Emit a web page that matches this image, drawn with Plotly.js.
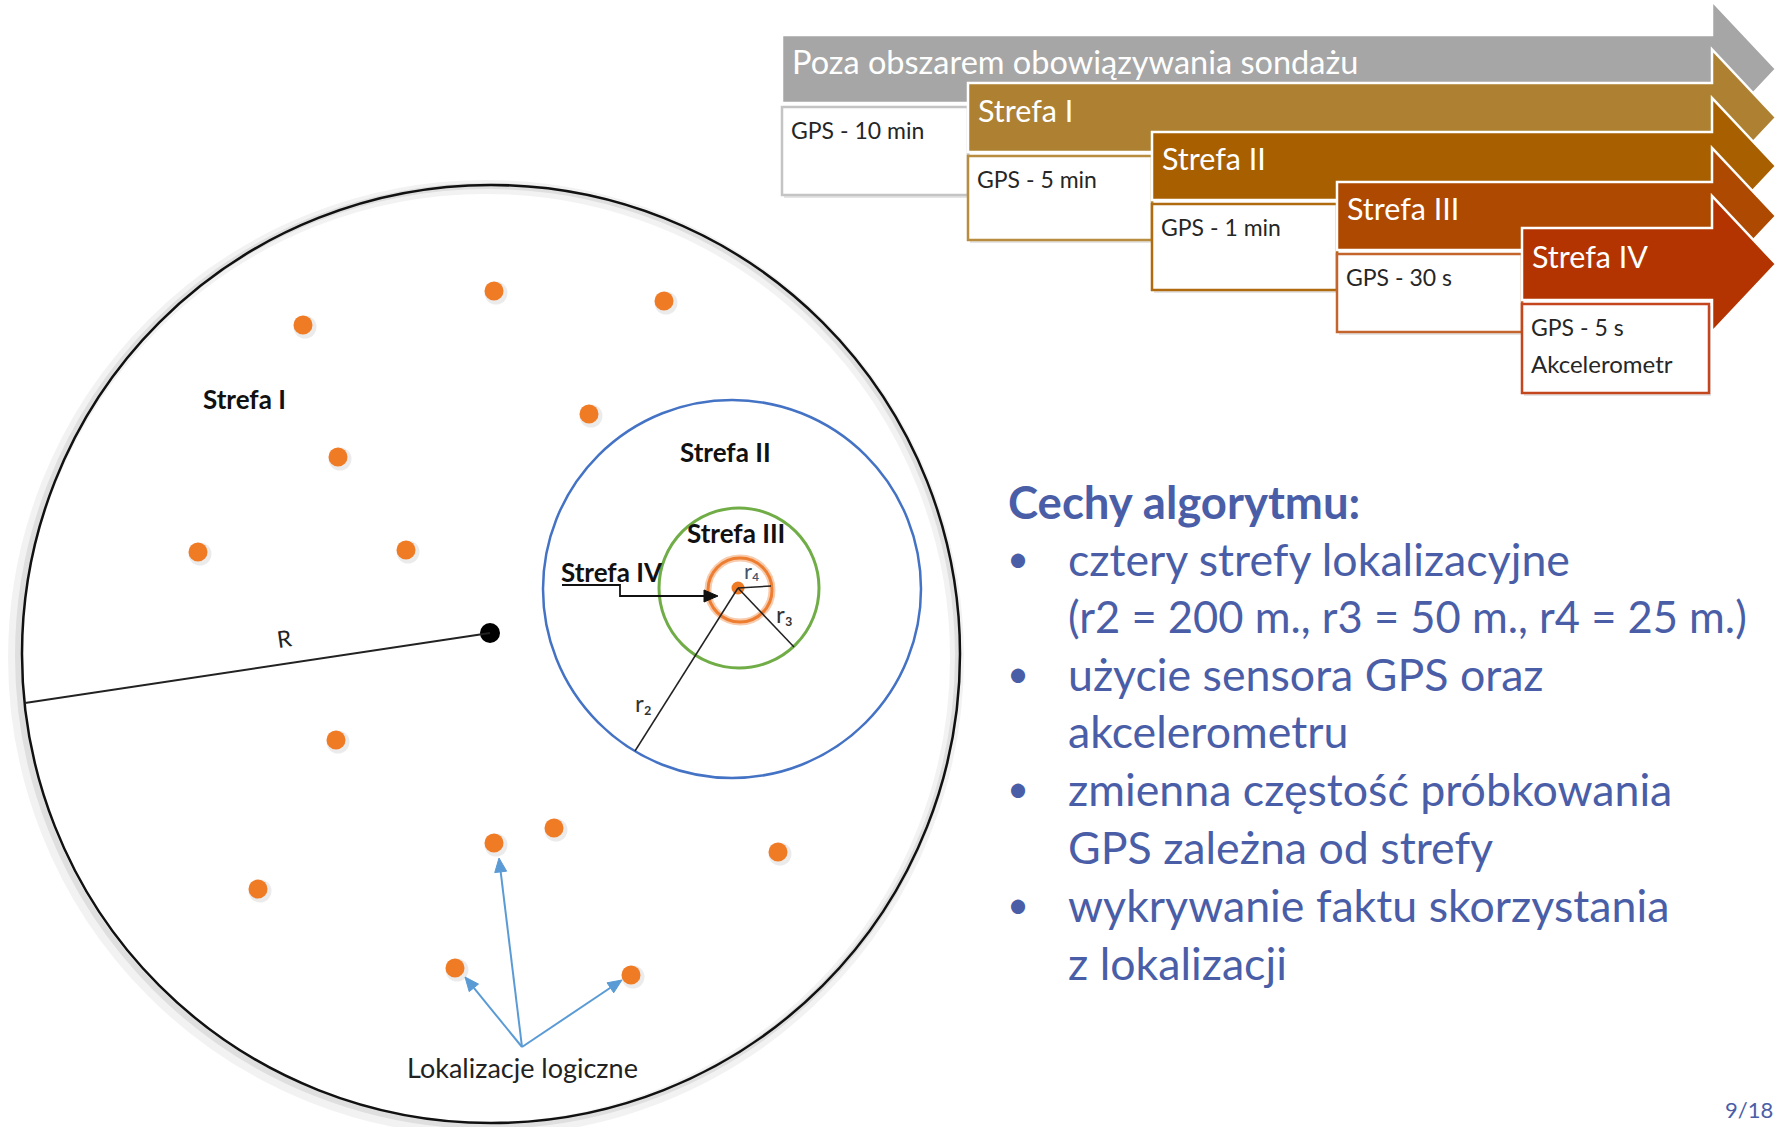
<!DOCTYPE html>
<html>
<head>
<meta charset="utf-8">
<script src="https://cdn.plot.ly/plotly-3.0.1.min.js"></script>
<style>html,body{margin:0;padding:0;background:#fff;}#chart{width:1776px;height:1127px;}</style>
</head>
<body>
<div id="chart"></div>
<script>
// ---------- data ----------
const dotX = [303, 494, 664, 589, 338, 198, 406, 336, 494, 554, 778, 258, 455, 631];
const dotY = [325, 291, 301, 414, 457, 552, 550, 740, 843, 828, 852, 889, 968, 975];

const bannerTitles = ['Poza obszarem obowiązywania sondażu', 'Strefa I', 'Strefa II', 'Strefa III', 'Strefa IV'];
const bannerGps = ['GPS - 10 min', 'GPS - 5 min', 'GPS - 1 min', 'GPS - 30 s', 'GPS - 5 s'];
const bannerExtra = ['', '', '', '', 'Akcelerometr'];

const zoneLabels = ['Strefa I', 'Strefa II', 'Strefa III', 'Strefa IV'];
const ringLabels = ['r₂', 'r₃', 'r₄'];

const headline = 'Cechy algorytmu:';
const bulletLines = [
  ['cztery strefy lokalizacyjne', '(r2 = 200 m., r3 = 50 m., r4 = 25 m.)'],
  ['użycie sensora GPS oraz', 'akcelerometru'],
  ['zmienna częstość próbkowania', 'GPS zależna od strefy'],
  ['wykrywanie faktu skorzystania', 'z lokalizacji']
];
const pageLabel = '9/18';
const pointerLabel = 'Lokalizacje logiczne';

// ---------- layout geometry / styles ----------
const W = 1776, H = 1127;
const FONT = 'Lato, "Open Sans", sans-serif';
const BLUE_TXT = '#4a5ea8';
const shapes = [];
const annotations = [];

function ann(x, y, text, size, color, opts) {
  opts = opts || {};
  const font = {family: FONT, size: size, color: color};
  if (opts.bold) font.weight = 'bold';
  annotations.push(Object.assign({
    x: x, y: y, xref: 'x', yref: 'y', text: text, showarrow: false,
    xanchor: opts.xanchor || 'left', yanchor: opts.yanchor || 'middle',
    font: font
  }, opts.extra || {}));
}
function circle(cx, cy, r, color, width) {
  shapes.push({type: 'circle', xref: 'x', yref: 'y', x0: cx - r, x1: cx + r, y0: cy - r, y1: cy + r,
    line: {color: color, width: width}, fillcolor: 'rgba(0,0,0,0)'});
}
function line(x0, y0, x1, y1, color, width) {
  shapes.push({type: 'line', xref: 'x', yref: 'y', x0: x0, y0: y0, x1: x1, y1: y1, line: {color: color, width: width}});
}
function rect(x0, y0, x1, y1, fill, border, width) {
  shapes.push({type: 'rect', xref: 'x', yref: 'y', x0: x0, y0: y0, x1: x1, y1: y1,
    fillcolor: fill, line: {color: border, width: width}});
}
function path(d, fill, color, width) {
  shapes.push({type: 'path', xref: 'x', yref: 'y', path: d, fillcolor: fill, line: {color: color, width: width}});
}
// arrow from (xs,ys) to tip (xt,yt): a line plus a filled triangular head
function arrow(xt, yt, xs, ys, color, width, len, half) {
  const dx = xt - xs, dy = yt - ys, L = Math.hypot(dx, dy);
  const ux = dx / L, uy = dy / L, px = -uy, py = ux;
  const bx = xt - ux * len, by = yt - uy * len;
  line(xs, ys, bx, by, color, width);
  const d = `M${xt},${yt} L${bx + px * half},${by + py * half} L${bx - px * half},${by - py * half} Z`;
  path(d, color, color, 1);
}

// ---------- banner of stepped arrows ----------
const barLeft = [782, 968, 1152, 1337, 1522];
const barTop = [35, 83, 132, 182, 228];
const barBot = [103, 152, 200, 250, 300];
const boxBot = [195, 240, 290, 332, 393];
const barColor = ['#a6a6a6', '#ad8131', '#a85f00', '#ad4900', '#b33400'];
const boxBorder = ['#c4c4c4', '#b98d3f', '#b06a10', '#c3652c', '#c4461c'];
const bodyEnd = 1712, tipX = 1776;

for (let i = 0; i < bannerTitles.length; i++) {
  const c = (barTop[i] + barBot[i]) / 2;
  const d = `M${barLeft[i]},${barTop[i]} L${bodyEnd},${barTop[i]} L${bodyEnd},${c - 68} L${tipX},${c} ` +
            `L${bodyEnd},${c + 68} L${bodyEnd},${barBot[i]} L${barLeft[i]},${barBot[i]} Z`;
  path(d, barColor[i], '#ffffff', 2.5);
  const bx1 = i < 4 ? barLeft[i + 1] : 1709;
  rect(barLeft[i] + 2, barBot[i] + 6, bx1 + 2, boxBot[i] + 3, 'rgba(0,0,0,0.10)', 'rgba(0,0,0,0)', 0);
  rect(barLeft[i], barBot[i] + 4, bx1, boxBot[i], '#ffffff', boxBorder[i], 2.5);
  ann(barLeft[i] + 8, (barTop[i] + barBot[i]) / 2 - 8, bannerTitles[i], i === 0 ? 32.5 : 30.5, '#ffffff');
  ann(barLeft[i] + 7, barBot[i] + 27, bannerGps[i], 23, '#262626');
  if (bannerExtra[i]) ann(barLeft[i] + 7, barBot[i] + 63, bannerExtra[i], 24, '#262626');
}

// ---------- big circle diagram ----------
circle(486, 658, 471, 'rgba(0,0,0,0.05)', 14);
circle(488, 656, 470, 'rgba(0,0,0,0.08)', 6);
circle(491, 654, 469, '#111111', 2.5);

// R radius
line(490, 633, 25, 703, '#222222', 2);

// zone rings
circle(732, 589, 189, '#4472c4', 2.5);
circle(739, 588, 80, '#70ad47', 3);
circle(740, 590, 32, '#f8cbad', 7);
circle(740, 590, 32, '#ed7d31', 3);

// ring radii
line(738, 588, 771, 586, '#222222', 1.5);
line(738, 588, 794, 647, '#222222', 1.5);
line(738, 588, 635, 751, '#222222', 1.5);

// Strefa IV pointer
path('M562,585 L620,585 L620,596 L706,596', 'rgba(0,0,0,0)', '#111111', 1.8);
arrow(718, 596, 700, 596, '#111111', 1.8, 14, 6);

// blue pointers to logical locations
arrow(499, 858, 522, 1047, '#5b9bd5', 2, 14, 6);
arrow(465, 977, 522, 1047, '#5b9bd5', 2, 14, 6);
arrow(622, 980, 522, 1047, '#5b9bd5', 2, 14, 6);

// diagram labels
ann(244, 399, zoneLabels[0], 26, '#111111', {xanchor: 'center', bold: true});
ann(725, 452, zoneLabels[1], 26, '#111111', {xanchor: 'center', bold: true});
ann(736, 533, zoneLabels[2], 26, '#111111', {xanchor: 'center', bold: true});
ann(612, 572, zoneLabels[3], 26, '#111111', {xanchor: 'center', bold: true});
ann(284, 638, 'R', 23, '#222222', {xanchor: 'center', extra: {textangle: -8}});
ann(643, 702, ringLabels[0], 24, '#333333', {xanchor: 'center'});
ann(784, 613, ringLabels[1], 24, '#333333', {xanchor: 'center'});
ann(751, 570, ringLabels[2], 22, '#44546a', {xanchor: 'center'});
ann(522, 1067, pointerLabel, 27, '#222222', {xanchor: 'center'});

// ---------- right text block ----------
ann(1006, 501, headline, 45.5, BLUE_TXT, {bold: true});
const lineY = [559, 616, 674, 731, 789, 847, 905, 963];
let k = 0;
for (let b = 0; b < bulletLines.length; b++) {
  ann(1005, lineY[k] - 2, '•', 38, BLUE_TXT);
  for (let j = 0; j < bulletLines[b].length; j++) {
    ann(1066, lineY[k], bulletLines[b][j], k === 1 ? 43.5 : 44.7, BLUE_TXT);
    k++;
  }
}
ann(1749, 1109, pageLabel, 22, BLUE_TXT, {xanchor: 'center'});

// ---------- traces ----------
const traces = [
  {x: dotX.map(v => v + 2), y: dotY.map(v => v + 2), mode: 'markers', type: 'scatter', hoverinfo: 'skip',
   marker: {size: 23, color: 'rgba(0,0,0,0.08)', line: {width: 0}}},
  {x: dotX, y: dotY, mode: 'markers', type: 'scatter', hoverinfo: 'skip',
   marker: {size: 19, color: '#f07b25', line: {width: 0}}},
  {x: [490], y: [633], mode: 'markers', type: 'scatter', hoverinfo: 'skip',
   marker: {size: 20, color: '#000000'}},
  {x: [738], y: [588], mode: 'markers', type: 'scatter', hoverinfo: 'skip',
   marker: {size: 13, color: '#f07b25'}}
];

const layout = {
  width: W, height: H,
  margin: {l: 0, r: 0, t: 0, b: 0},
  paper_bgcolor: '#ffffff', plot_bgcolor: '#ffffff',
  showlegend: false,
  xaxis: {range: [0, W], visible: false, fixedrange: true},
  yaxis: {range: [H, 0], visible: false, fixedrange: true},
  shapes: shapes,
  annotations: annotations
};

Plotly.newPlot('chart', traces, layout, {displayModeBar: false, staticPlot: true});
</script>
</body>
</html>
